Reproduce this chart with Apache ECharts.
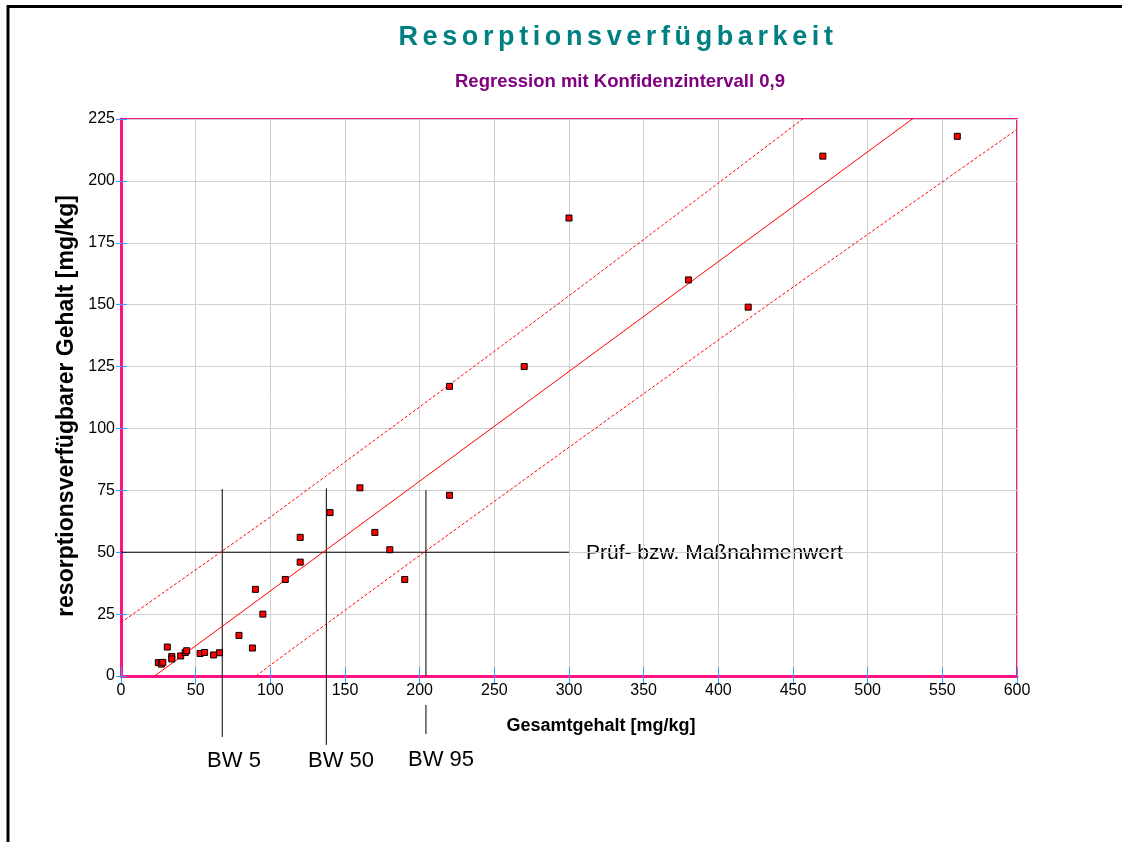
<!DOCTYPE html>
<html>
<head>
<meta charset="utf-8">
<script src="https://cdn.jsdelivr.net/npm/echarts@6/dist/echarts.min.js"></script>
<style>html,body{margin:0;padding:0;background:#fff;}#c{width:1122px;height:842px;}</style>
</head>
<body>
<div id="c"></div>
<script>
// ---- data ----
const titleText = 'Resorptionsverfügbarkeit';
const subtitleText = 'Regression mit Konfidenzintervall 0,9';
const xAxisName = 'Gesamtgehalt [mg/kg]';
const yAxisName = 'resorptionsverfügbarer Gehalt [mg/kg]';
const thresholdLabel = 'Prüf- bzw. Maßnahmenwert';
const bwLabels = ['BW 5', 'BW 50', 'BW 95'];

const totalContent = [25, 27, 28, 31, 34, 34, 40, 43, 44, 53, 56, 62, 66, 79, 88, 90, 95, 110, 120, 120, 140, 160, 170, 180, 190, 220, 220, 270, 300, 380, 420, 470, 560];
const availContent = [5.4, 4.8, 5.5, 11.7, 7.9, 6.9, 8.1, 9.5, 10.2, 9.1, 9.5, 8.5, 9.4, 16.4, 11.3, 35, 25, 39, 46, 56, 66, 76, 58, 51, 39, 73, 117, 125, 185, 160, 149, 210, 218];

const regX = [0, 600];
const regY = [-10.0, 256.1];
const bandX = [0, 100, 200, 300, 400, 500, 600];
const upperY = [21.6, 64.2, 108.7, 153.6, 199.1, 245.0, 291.4];
const lowerY = [-41.6, 4.4, 48.7, 92.4, 135.7, 178.4, 220.8];

const thresholdX = [0, 300];
const thresholdY = [50, 50];
const bw5X = [67.8, 67.8];   const bw5Y = [75.5, -24.6];
const bw50X = [137.5, 137.5]; const bw50Y = [75.8, -27.8];
const bw95X = [204.2, 204.2]; const bw95Y = [75, 0];
const bw95bX = [204.2, 204.2]; const bw95bY = [-11.7, -23.4];

// ---- helpers ----
const zip = (xs, ys) => xs.map((x, i) => [x, ys[i]]);
const FONT = "'Liberation Sans', Arial, sans-serif";
const PINK = '#FF1083';
const TICKBLUE = '#3D9BFF';

// letter spacing only for the title text (canvas)
const origFill = CanvasRenderingContext2D.prototype.fillText;
const hasLS = 'letterSpacing' in CanvasRenderingContext2D.prototype;
CanvasRenderingContext2D.prototype.fillText = function (t, x, y, mw) {
  if (hasLS) {
    const want = (t === titleText) ? '4.6px' : '0px';
    if (this.letterSpacing !== want) {
      const f = this.font;
      this.letterSpacing = want;
      this.font = f;
    }
  }
  return mw === undefined ? origFill.call(this, t, x, y) : origFill.call(this, t, x, y, mw);
};

function blackLine(xs, ys) {
  return {
    type: 'line', data: zip(xs, ys), symbol: 'none', clip: false, silent: true,
    lineStyle: { color: '#000', width: 1 }, z: 3
  };
}

const chart = echarts.init(document.getElementById('c'), null, { renderer: 'canvas' });
const option = {
  animation: false,
  backgroundColor: '#fff',
  grid: { left: 121, right: 105, top: 119, bottom: 166, show: true, borderColor: PINK, borderWidth: 2 },
  xAxis: [{
    type: 'value', min: 0, max: 600, interval: 50,
    axisLine: { show: true, onZero: false, lineStyle: { color: PINK, width: 3 } },
    axisTick: { show: true, inside: true, length: 9, lineStyle: { color: TICKBLUE, width: 1 } },
    axisLabel: { fontSize: 16, color: '#000', fontFamily: FONT, margin: 7 },
    splitLine: { show: true, lineStyle: { color: '#CFCFCF', width: 1 } }
  }, {
    type: 'value', min: 0, max: 600, interval: 50, position: 'top',
    axisLine: { show: true, lineStyle: { color: PINK, width: 2 } },
    axisTick: { show: true, inside: true, length: 9, lineStyle: { color: TICKBLUE, width: 1 } },
    axisLabel: { show: false }, splitLine: { show: false }
  }],
  yAxis: [{
    type: 'value', min: 0, max: 225, interval: 25,
    axisLine: { show: true, onZero: false, lineStyle: { color: PINK, width: 3 } },
    axisTick: { show: true, inside: true, length: 6, lineStyle: { color: TICKBLUE, width: 1 } },
    axisLabel: { fontSize: 16, color: '#000', fontFamily: FONT, margin: 6 },
    splitLine: { show: true, lineStyle: { color: '#CFCFCF', width: 1 } }
  }, {
    type: 'value', min: 0, max: 225, interval: 25, position: 'right',
    axisLine: { show: true, lineStyle: { color: PINK, width: 2 } },
    axisTick: { show: true, inside: true, length: 5, lineStyle: { color: TICKBLUE, width: 1 } },
    axisLabel: { show: false }, splitLine: { show: false }
  }],
  series: [
    blackLine(thresholdX, thresholdY),
    blackLine(bw5X, bw5Y),
    blackLine(bw50X, bw50Y),
    blackLine(bw95X, bw95Y),
    blackLine(bw95bX, bw95bY),
    {
      type: 'line', data: zip(regX, regY), symbol: 'none', clip: true, silent: true,
      lineStyle: { color: '#FF0000', width: 1 }, z: 4
    },
    {
      type: 'line', data: zip(bandX, upperY), symbol: 'none', clip: true, silent: true,
      lineStyle: { color: '#FF0000', width: 1, type: [3, 2] }, z: 4
    },
    {
      type: 'line', data: zip(bandX, lowerY), symbol: 'none', clip: true, silent: true,
      lineStyle: { color: '#FF0000', width: 1, type: [3, 2] }, z: 4
    },
    {
      type: 'scatter', data: zip(totalContent, availContent), symbol: 'rect', symbolSize: 6,
      itemStyle: { color: '#FF0000', borderColor: '#000', borderWidth: 1, opacity: 1 }, z: 5
    }
  ],
  graphic: [
    { type: 'line', shape: { x1: 7, y1: 6.5, x2: 1122, y2: 6.5 }, style: { stroke: '#000', lineWidth: 3 } },
    { type: 'line', shape: { x1: 8, y1: 5, x2: 8, y2: 842 }, style: { stroke: '#000', lineWidth: 3 } },
    { type: 'text', x: 618, y: 38, style: { text: titleText, font: 'bold 27px ' + FONT, fill: '#008080', textAlign: 'center', textVerticalAlign: 'middle' } },
    { type: 'text', x: 620, y: 82, style: { text: subtitleText, font: 'bold 18.5px ' + FONT, fill: '#800080', textAlign: 'center', textVerticalAlign: 'middle' } },
    { type: 'text', x: 601, y: 726, style: { text: xAxisName, font: 'bold 18px ' + FONT, fill: '#000', textAlign: 'center', textVerticalAlign: 'middle' } },
    { type: 'text', x: 67, y: 406, rotation: Math.PI / 2, style: { text: yAxisName, font: 'bold 23px ' + FONT, fill: '#000', textAlign: 'center', textVerticalAlign: 'middle' } },
    { type: 'text', x: 586, y: 553, style: { text: thresholdLabel, font: '21px ' + FONT, fill: '#000', textAlign: 'left', textVerticalAlign: 'middle' } },
    { type: 'text', x: 234, y: 761, style: { text: bwLabels[0], font: '22px ' + FONT, fill: '#000', textAlign: 'center', textVerticalAlign: 'middle' } },
    { type: 'text', x: 341, y: 761, style: { text: bwLabels[1], font: '22px ' + FONT, fill: '#000', textAlign: 'center', textVerticalAlign: 'middle' } },
    { type: 'text', x: 441, y: 760, style: { text: bwLabels[2], font: '22px ' + FONT, fill: '#000', textAlign: 'center', textVerticalAlign: 'middle' } }
  ]
};
chart.setOption(option);
</script>
</body>
</html>
